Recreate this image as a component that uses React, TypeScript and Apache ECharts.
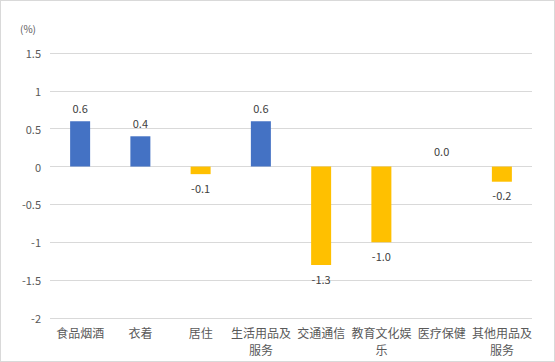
import React, { useEffect, useRef } from "react";
import * as echarts from "echarts";

const categories = ["食品烟酒", "衣着", "居住", "生活用品及服务", "交通通信", "教育文化娱乐", "医疗保健", "其他用品及服务"];
const values = [0.6, 0.4, -0.1, 0.6, -1.3, -1.0, 0.0, -0.2];
const yTicks = { min: -2, max: 1.5, interval: 0.5 };
const unitLabel = "(%)";

const FONT = "'Noto Sans CJK SC', 'Noto Sans', sans-serif";

export default function App() {
  const ref = useRef<HTMLDivElement>(null);
  useEffect(() => {
    document.body.style.margin = "0";
    const chart = echarts.init(ref.current!, undefined, { renderer: "svg" });
    chart.setOption({
      animation: false,
      textStyle: { fontFamily: FONT },
      grid: { left: 49, right: 22, top: 52, bottom: 43 },
      xAxis: {
        type: "category",
        data: categories,
        axisLine: { show: false },
        axisTick: { show: false },
        axisLabel: {
          color: "#595959",
          fontSize: 12,
          lineHeight: 17,
          margin: 6,
          interval: 0,
          fontFamily: FONT,
          formatter: (v: string) => (v.length > 5 ? v.slice(0, 5) + "\n" + v.slice(5) : v),
        },
      },
      yAxis: {
        type: "value",
        min: yTicks.min,
        max: yTicks.max,
        interval: yTicks.interval,
        name: unitLabel,
        nameLocation: "end",
        nameGap: 20,
        nameTextStyle: { color: "#595959", fontSize: 10, align: "right", padding: [0, 14, 0, 0] },
        axisLine: { show: false },
        axisTick: { show: false },
        splitLine: { lineStyle: { color: "#d9d9d9", width: 1 } },
        axisLabel: {
          color: "#595959",
          fontSize: 11,
          margin: 9,
          fontFamily: FONT,
          formatter: (v: number) => String(v),
        },
      },
      series: [
        {
          type: "bar",
          barWidth: 20,
          data: values.map((v) => ({
            value: v,
            itemStyle: { color: v > 0 ? "#4472C4" : "#FFC000" },
            label: {
              show: true,
              position: v >= 0 ? "top" : "bottom",
              distance: v === 0 ? 10 : 8,
              formatter: () => v.toFixed(1),
              color: "#404040",
              fontSize: 11,
              fontFamily: FONT,
            },
          })),
        },
      ],
    });
    return () => chart.dispose();
  }, []);
  return (
    <div
      style={{
        width: 553,
        height: 360,
        border: "1px solid #d9d9d9",
        background: "#fff",
      }}
    >
      <div ref={ref} style={{ width: 553, height: 360 }} />
    </div>
  );
}
